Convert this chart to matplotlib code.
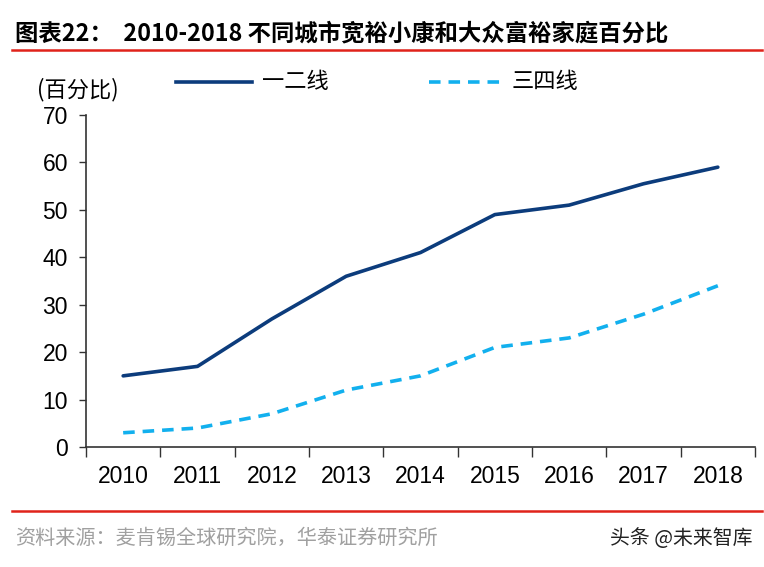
import matplotlib
matplotlib.use("Agg")
import matplotlib.pyplot as plt
from matplotlib.lines import Line2D

years = ["2010", "2011", "2012", "2013", "2014", "2015", "2016", "2017", "2018"]
tier12 = [15, 17, 27, 36, 41, 49, 51, 55.5, 59]
tier34 = [3, 4, 7, 12, 15, 21, 23, 28, 34]
series_names = ["一二线", "三四线"]
yticks = [0, 10, 20, 30, 40, 50, 60, 70]

FAM = ["Liberation Sans", "Noto Sans CJK SC", "DejaVu Sans"]
CJK = ["Noto Sans CJK SC", "DejaVu Sans"]
plt.rcParams["font.family"] = FAM

fig = plt.figure(figsize=(7.64, 5.67), dpi=100)
ax = fig.add_axes([86/764, 1-447/567, (755-86)/764, (447-115)/567])

x = list(range(len(years)))
ax.plot(x, tier12, color="#0C3C7C", lw=2.6, solid_capstyle="round")
ax.plot(x, tier34, color="#12B0EE", lw=2.6, linestyle=(0, (3.2, 2.2)))

ax.set_xlim(-0.5, len(years) - 0.5)
ax.set_ylim(0, 70)
ax.set_yticks(yticks)
ax.set_yticklabels([str(v) for v in yticks], fontsize=16.5)
ax.set_xticks([i - 0.5 for i in range(len(years) + 1)])
ax.set_xticklabels([])
ax.set_xticks(x, minor=True)
ax.set_xticklabels(years, minor=True, fontsize=16.5)
ax.tick_params(axis="x", which="major", direction="out", length=7, width=1, color="#333333")
ax.tick_params(axis="x", which="minor", length=0, pad=13)
ax.tick_params(axis="y", direction="out", length=5, width=1, color="#333333", pad=8)
for s in ["top", "right"]:
    ax.spines[s].set_visible(False)
ax.spines["left"].set_color("#333333")
ax.spines["bottom"].set_color("#333333")
ax.spines["left"].set_linewidth(1.2)
ax.spines["bottom"].set_linewidth(1.2)

# title
fig.text(15/764, 1-33/567, "图表22：  2010-2018 不同城市宽裕小康和大众富裕家庭百分比",
         fontsize=16.8, fontweight="bold", va="center", ha="left", family=CJK)
# red separators
fig.add_artist(Line2D([12/764, 762/764], [1-50/567, 1-50/567], color="#E0231A", lw=1.8))
fig.add_artist(Line2D([12/764, 762/764], [1-511/567, 1-511/567], color="#E0231A", lw=1.8))

# unit label
fig.text(37/764, 1-90/567, "(百分比)", fontsize=16, va="center", ha="left", family=CJK)

# legend
ly = 1-82/567
fig.add_artist(Line2D([176/764, 252/764], [ly, ly], color="#0C3C7C", lw=2.6))
fig.text(262/764, ly, series_names[0], fontsize=16, va="center", ha="left", family=CJK)
fig.add_artist(Line2D([429/764, 500/764], [ly, ly], color="#12B0EE", lw=2.6,
                      linestyle=(0, (3.2, 2.2))))
fig.text(512/764, ly, series_names[1], fontsize=16, va="center", ha="left", family=CJK)

# source + watermark
fig.text(15/764, 1-538/567, "资料来源：麦肯锡全球研究院，华泰证券研究所", fontsize=14.5,
         color="#A0A0A0", va="center", ha="left", family=CJK)
fig.text(752/764, 1-538/567, "头条 @未来智库", fontsize=14.3, color="#222222",
         va="center", ha="right", family=CJK)

fig.savefig("out.png", dpi=100)
